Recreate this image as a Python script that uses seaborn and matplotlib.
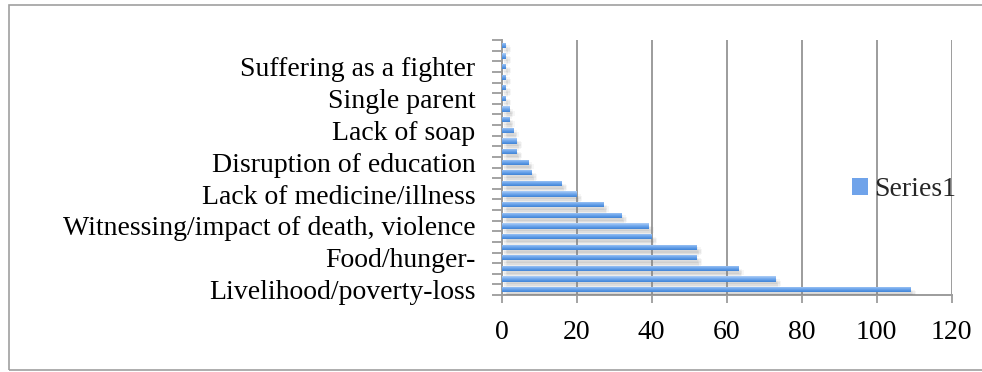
import matplotlib
matplotlib.use("Agg")
import matplotlib.pyplot as plt
import matplotlib.patheffects as pe
from matplotlib.patches import Rectangle, Patch
import numpy as np
import pandas as pd
import seaborn as sns

# Rank 1 is the most frequent cause (bottom bar); only every third rank is labelled.
ranks = list(range(1, 25))
counts = [109, 73, 63, 52, 52, 40, 39, 32, 27, 20, 16, 8,
          7, 4, 4, 3, 2, 2, 1, 1, 1, 1, 1, 1]
labels = {
    1: "Livelihood/poverty-loss",
    4: "Food/hunger-",
    7: "Witnessing/impact of death, violence",
    10: "Lack of medicine/illness",
    13: "Disruption of education",
    16: "Lack of soap",
    19: "Single parent",
    22: "Suffering as a fighter",
}
x_ticks = [0, 20, 40, 60, 80, 100, 120]
series_name = "Series1"

df = pd.DataFrame({"rank": ranks, "count": counts})

sns.set_theme(style="white")
plt.rcParams["font.family"] = ["Liberation Serif", "DejaVu Serif"]

W, H = 982, 372
FS = 20
fig = plt.figure(figsize=(W / 100, H / 100), dpi=100)
ax = fig.add_axes([501.7 / W, 1 - 295 / H, 450 / W, 255 / H])

order = sorted(ranks, reverse=True)
sns.barplot(data=df, x="count", y="rank", order=order, orient="h",
            width=0.5, color="#6fa3ea", ax=ax, zorder=3)

grid_col = "#9c9c9c"

# Gradient fill and soft drop shadow for each bar
grad = np.linspace(0, 1, 64).reshape(-1, 1)
cmap = matplotlib.colors.LinearSegmentedColormap.from_list(
    "bar", ["#b0d0f7", "#82b3f0", "#5d9ae6", "#4284d6"])
shadow = [pe.SimplePatchShadow(offset=(dx, dy), shadow_rgbFace="#808080",
                               alpha=0.07)
          for dx, dy in [(1, -2), (2, -3), (3, -4), (2, -5), (4, -3), (3, -2)]]
for bar in ax.patches:
    bar.set_facecolor("none")
    bar.set_edgecolor("none")
    bar.set_path_effects(shadow)
    x0, y0 = bar.get_x(), bar.get_y()
    w, h = bar.get_width(), bar.get_height()
    im = ax.imshow(grad, cmap=cmap, aspect="auto",
                   extent=(x0, x0 + w, y0 + h, y0), zorder=4,
                   interpolation="bilinear")
    im.set_clip_path(bar)
ax.set_xlim(0, 120)
ax.set_ylim(len(ranks) - 0.5, -0.5)

ax.set_xlabel("")
ax.set_ylabel("")
ax.set_xticks(x_ticks)
ax.set_xticklabels([str(v) for v in x_ticks])
ax.xaxis.grid(True, color=grid_col, linewidth=1.4, zorder=0)
ax.yaxis.grid(False)
ax.set_axisbelow(True)

pos = [order.index(r) for r in labels]
ax.set_yticks(pos)
ax.set_yticklabels([labels[r] for r in labels])
ax.set_yticks(np.arange(-0.5, len(ranks)), minor=True)

ax.tick_params(axis="y", which="major", length=0, pad=19, labelsize=FS,
               labelcolor="black")
ax.tick_params(axis="y", which="minor", left=True, length=7, width=1.3,
               color=grid_col)
ax.tick_params(axis="x", which="major", bottom=True, length=6, width=1.3,
               color=grid_col, pad=12, labelsize=FS, labelcolor="black")

for side in ["top", "right"]:
    ax.spines[side].set_visible(False)
for side in ["left", "bottom"]:
    ax.spines[side].set_color(grid_col)
    ax.spines[side].set_linewidth(1.4)

ax.legend(handles=[Patch(facecolor="#6fa3ea", edgecolor="none")],
          labels=[series_name], loc="center left",
          bbox_to_anchor=(852 / W, 1 - 190 / H),
          bbox_transform=fig.transFigure, frameon=False,
          fontsize=FS, borderpad=0, handlelength=0.58, handleheight=0.58,
          handletextpad=0.2, borderaxespad=0)

fig.patches.append(Rectangle((9 / W, 2 / H), 1.0, 1 - 6.5 / H,
                             transform=fig.transFigure, fill=False,
                             edgecolor="#a0a0a0", linewidth=1.2))

fig.savefig("out.png", dpi=100)
